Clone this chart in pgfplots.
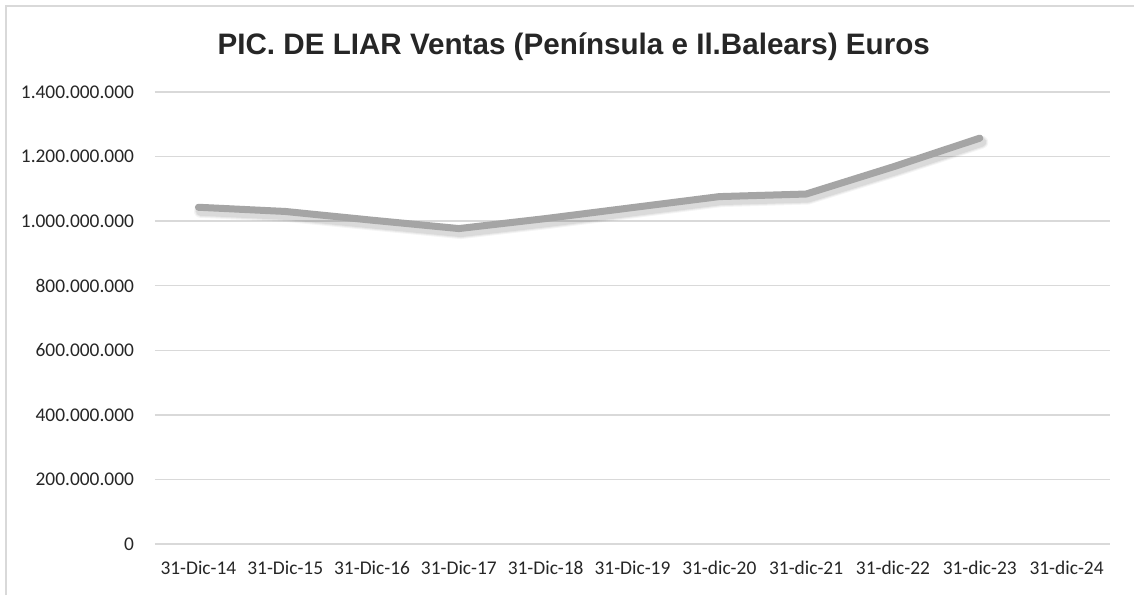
\documentclass[border=0pt]{standalone}
\usepackage{fontspec}
\setmainfont{Carlito}
\newfontfamily\titlefont{Liberation Sans}
\usepackage{pgfplots}
\pgfplotsset{compat=1.18}
\definecolor{gridc}{HTML}{D9D9D9}
\definecolor{linec}{HTML}{A5A5A5}
\definecolor{txt}{HTML}{262626}
\pgfplotstableread{
x y
0 1043000000
1 1030000000
2 1003000000
3 977000000
4 1008000000
5 1042000000
6 1076000000
7 1084000000
8 1168000000
9 1257000000
}\datatable
\begin{document}
\begin{tikzpicture}
\path[use as bounding box] (-77.5pt,-25.5pt) rectangle (489.5pt,272pt);
\fill[white] (-77.5pt,-25.5pt) rectangle (489.5pt,272pt);
\draw[gridc, line width=0.8pt] (-74.5pt,-25.5pt) -- (-74.5pt,269pt) -- (489.5pt,269pt);
\begin{axis}[
  at={(0,0)}, anchor=south west,
  scale only axis, width=477.5pt, height=226pt,
  xmin=-0.5, xmax=10.5, ymin=0, ymax=1400000000,
  axis line style={draw=none},
  xtick={0,...,10},
  xticklabels={31-Dic-14,31-Dic-15,31-Dic-16,31-Dic-17,31-Dic-18,31-Dic-19,31-dic-20,31-dic-21,31-dic-22,31-dic-23,31-dic-24},
  ytick={0,200000000,400000000,600000000,800000000,1000000000,1200000000,1400000000},
  yticklabels={0,200.000.000,400.000.000,600.000.000,800.000.000,1.000.000.000,1.200.000.000,1.400.000.000},
  scaled y ticks=false,
  major tick length=0pt,
  ymajorgrids, grid style={gridc, line width=0.75pt},
  tick label style={font=\fontsize{9.7}{11}\selectfont, text=txt},
  yticklabel style={xshift=-7pt},
  xticklabel style={yshift=-5pt},
  clip=false,
]
\addplot[draw=black, opacity=0.04, line width=6.5pt, line cap=round, line join=round,
    transform canvas={xshift=1pt,yshift=-2pt}] table[x=x,y=y] {\datatable};
\addplot[draw=black, opacity=0.05, line width=5.5pt, line cap=round, line join=round,
    transform canvas={xshift=1pt,yshift=-2pt}] table[x=x,y=y] {\datatable};
\addplot[draw=black, opacity=0.06, line width=4.5pt, line cap=round, line join=round,
    transform canvas={xshift=1pt,yshift=-2pt}] table[x=x,y=y] {\datatable};
\addplot[draw=linec, line width=3.5pt, line cap=round, line join=round] table[x=x,y=y] {\datatable};
\node[font=\titlefont\fontsize{14.8}{17}\selectfont\bfseries, text=txt, anchor=base] at (rel axis cs:0.4385,0) [yshift=244.5pt] {PIC. DE LIAR Ventas (Península e Il.Balears) Euros};
\end{axis}
\end{tikzpicture}
\end{document}
